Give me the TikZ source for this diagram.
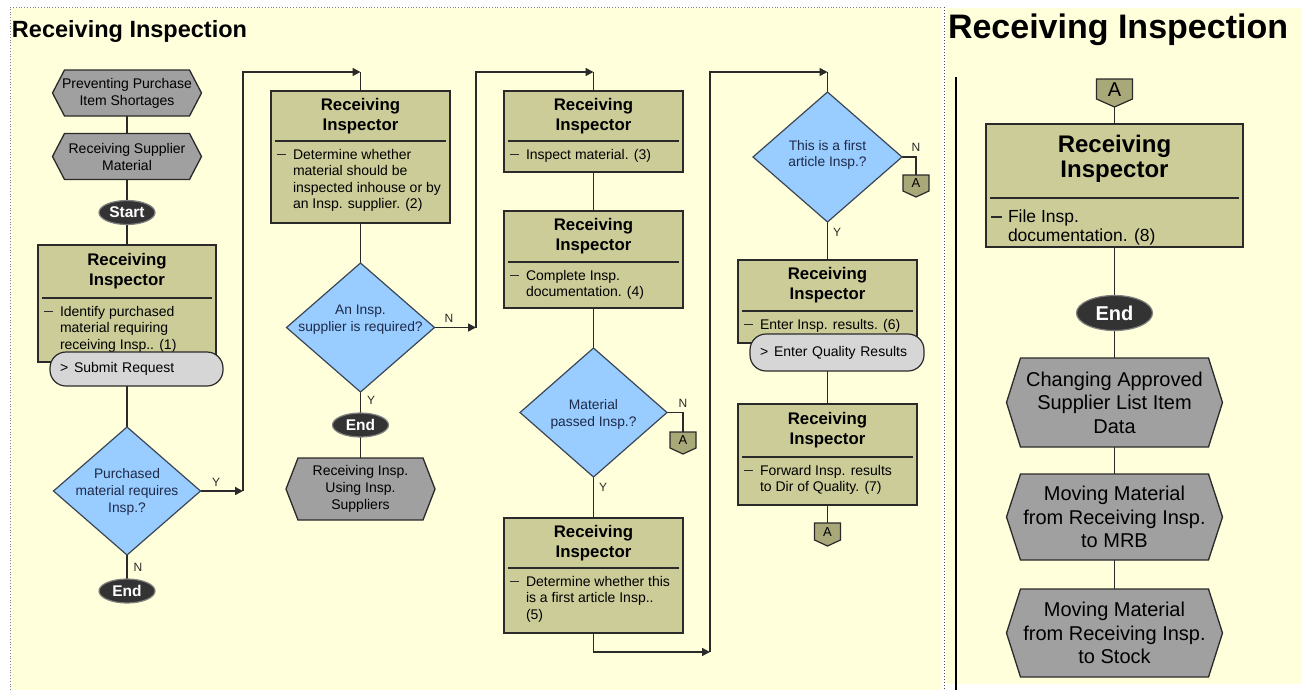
\documentclass[tikz,border=0pt]{standalone}
\usepackage{fontspec}
\setmainfont{Liberation Sans}
\usetikzlibrary{shapes.geometric,shapes.misc,arrows.meta,backgrounds}
\definecolor{bgy}{HTML}{FFFFDC}
\definecolor{boxc}{HTML}{CCCC99}
\definecolor{diac}{HTML}{99CCFF}
\definecolor{diab}{HTML}{3A4656}
\definecolor{diatext}{HTML}{1E2A4A}
\definecolor{hexc}{HTML}{A0A0A0}
\definecolor{pillc}{HTML}{D6D6D6}
\definecolor{ac}{HTML}{A8A878}
\definecolor{linec}{HTML}{2A2A2A}
\definecolor{termc}{HTML}{333333}

% box: name, x1, y1, x2, y2, separator y, body
\newcommand{\RIbox}[7]{%
  \node[ribox, minimum width={#4-#2}, minimum height={#5-#3}] (#1) at ({(#2+#4)/2},{(#3+#5)/2}) {};
  \node[rihead] (#1h) at ({(#2+#4)/2},{(#3+#6)/2}) {Receiving\\Inspector};
  \draw[sepline] ({#2+4},#6) -- ({#4-4},#6);
  \draw[dashln] ({#2+6},{#6+13.5}) -- ({#2+15},{#6+13.5});
  \node[ribody] (#1b) at ({#2+22},{#6+8}) {#7};
}
% hexagon: options, name, cx, cy, w, h, indent, text
\newcommand{\hexn}[8]{%
  \path[hexst] ({#3-#5/2},#4) -- ({#3-#5/2+#7},{#4-#6/2}) -- ({#3+#5/2-#7},{#4-#6/2})
    -- ({#3+#5/2},#4) -- ({#3+#5/2-#7},{#4+#6/2}) -- ({#3-#5/2+#7},{#4+#6/2}) -- cycle;
  \node[hextx, minimum width=#5, minimum height=#6, #1] (#2) at (#3,#4) {#8};
}
% off-page connector: name, cx, top, w, h, point, font size
\newcommand{\Aconn}[7]{%
  \path[ast] ({#2-#4/2},#3) -- ({#2+#4/2},#3) -- ({#2+#4/2},{#3+#5-#6}) -- (#2,{#3+#5})
    -- ({#2-#4/2},{#3+#5-#6}) -- cycle;
  \node[minimum width=#4, minimum height=#5] (#1) at (#2,{#3+#5/2}) {};
  \node[font={\fontsize{#7}{#7}\selectfont}] (#1t) at (#2,{#3+(#5-#6)/2+0.5}) {A};
}

\begin{document}
\begin{tikzpicture}[x=1pt,y=-1pt,
  every node/.style={inner sep=0pt, outer sep=0pt},
  ln/.style={draw=linec, line width=1.5pt},
  arr/.style={ln, -{Triangle[length=8pt,width=8pt]}},
  ribox/.style={rectangle, draw=linec, line width=1.3pt, fill=boxc},
  rihead/.style={align=center, font=\fontsize{16.8}{20}\selectfont\bfseries},
  ribody/.style={anchor=north west, align=left, font=\fontsize{14}{16.6}\selectfont},
  dashln/.style={draw=linec, line width=1.6pt},
  sepline/.style={draw=linec, line width=1.5pt},
  dia/.style={diamond, draw=diab, line width=1.2pt, fill=diac},
  diatx/.style={align=center, text=diatext, font=\fontsize{13.8}{16.8}\selectfont},
  hexst/.style={fill=hexc, draw=linec, line width=1.3pt},
  hextx/.style={align=center, font=\fontsize{14}{17}\selectfont},
  hexbig/.style={font=\fontsize{20}{23.5}\selectfont},
  term/.style={ellipse, fill=termc, draw=gray, line width=1.2pt, text=white,
    minimum width=56, minimum height=24, font=\fontsize{15.5}{16}\selectfont\bfseries},
  pill/.style={rectangle, rounded corners=16pt, fill=pillc, draw=linec, line width=1.2pt,
    align=left, inner xsep=10pt, font=\fontsize{14}{16}\selectfont},
  ast/.style={fill=ac, draw=linec, line width=1.2pt},
  yn/.style={font=\fontsize{12}{12}\selectfont, text=linec},
  title/.style={anchor=base west, font=\bfseries}
]
\useasboundingbox (0,0) rectangle (1302,694);
\begin{scope}[on background layer]
  \fill[white] (0,0) rectangle (1302,694);
  \fill[bgy] (11,8) rectangle (942,690);
  \fill[bgy] (946,8) rectangle (1302,684);
  \draw[gray, dotted, line width=0.8pt] (10,690) -- (10,7) -- (942,7);
  \draw[black!70, dotted, line width=1pt] (944,7) -- (944,690);
\end{scope}
\draw[black, line width=2pt] (956,77) -- (956,690);

% titles
\node[title, font=\fontsize{23.5}{26}\selectfont\bfseries] (t1) at (12,37) {Receiving Inspection};
\node[title, font=\fontsize{34}{36}\selectfont\bfseries] (t2) at (948,38) {Receiving Inspection};

% ---------- column 1
\hexn{}{h1}{127}{93}{149}{46}{12}{Preventing Purchase\\Item Shortages}
\hexn{}{h2}{127}{156.5}{149}{46}{12}{Receiving Supplier\\Material}
\node[term] (st) at (127,212.5) {Start};
\RIbox{b1}{38}{245}{216}{362}{298}{Identify purchased\\material requiring\\receiving Insp.. (1)}
\node[pill, minimum height=34, text width=153pt] (p1) at (136.5,369) {\makebox[14pt][l]{>}Submit Request};
\node[dia, minimum width=147, minimum height=128] (d1) at (127,491) {};
\node[diatx] (d1t) at (127,492) {Purchased\\material requires\\Insp.?};
\node[term] (e1) at (127,591) {End};
\node[yn] (n1) at (138,567) {N};
\node[yn] (y1) at (216,482) {Y};

% ---------- column 2
\RIbox{b2}{271}{91}{450}{223}{141}{Determine whether\\material should be\\inspected inhouse or by\\an Insp. supplier. (2)}
\node[dia, minimum width=148, minimum height=129] (d2) at (360.5,327.5) {};
\node[diatx] (d2t) at (360.5,320) {An Insp.\\supplier is required?};
\node[term] (e2) at (360.5,425) {End};
\hexn{}{h3}{360.5}{489}{149}{62}{12}{Receiving Insp.\\Using Insp.\\Suppliers}
\node[yn] (y2) at (371,400) {Y};
\node[yn] (n2) at (449,318) {N};

% ---------- column 3
\RIbox{b3}{504}{91}{683}{172}{141}{Inspect material. (3)}
\RIbox{b4}{504}{211}{683}{308}{262}{Complete Insp.\\documentation. (4)}
\node[dia, minimum width=147, minimum height=129] (d3) at (593.5,412.5) {};
\node[diatx] (d3t) at (593.5,414.5) {Material\\passed Insp.?};
\Aconn{a1}{683}{432}{26}{22}{6}{13}
\node[yn] (n3) at (683,403) {N};
\node[yn] (y3) at (603,487) {Y};
\RIbox{b5}{504}{518}{683}{633}{568}{Determine whether this\\is a first article Insp..\\(5)}

% ---------- column 4
\node[dia, minimum width=149, minimum height=130] (d4) at (827.5,157) {};
\node[diatx] (d4t) at (827.5,155) {This is a first\\article Insp.?};
\Aconn{a2}{916}{175}{26}{22}{6}{13}
\node[yn] (n4) at (916,147) {N};
\node[yn] (y4) at (837,232) {Y};
\RIbox{b6}{738}{260}{917}{343}{311}{Enter Insp. results. (6)}
\node[pill, minimum height=37, text width=154pt] (p2) at (837,352.5) {\makebox[14pt][l]{>}Enter Quality Results};
\RIbox{b7}{738}{404}{917}{505}{457}{Forward Insp. results\\to Dir of Quality. (7)}
\Aconn{a3}{827.5}{523}{26}{23}{6}{13}

% ---------- right panel
\Aconn{a4}{1114.5}{79}{36}{28}{8}{20}
\node[ribox, minimum width=257, minimum height=123] (b8) at (1114.5,185.5) {};
\node[rihead, font=\fontsize{24}{25}\selectfont\bfseries] (b8h) at (1114.5,159) {Receiving\\Inspector};
\draw[sepline] (990,198) -- (1239,198);
\draw[dashln, line width=2pt] (991,217) -- (1002,217);
\node[ribody, font=\fontsize{17.5}{18.5}\selectfont] (b8b) at (1008,210) {File Insp.\\documentation. (8)};
\node[term, minimum width=76, minimum height=35, font=\fontsize{20}{20}\selectfont\bfseries] (e3) at (1114.5,313) {End};
\hexn{hexbig}{h4}{1114.5}{402.5}{216}{89}{14}{Changing Approved\\Supplier List Item\\Data}
\hexn{hexbig}{h5}{1114.5}{517}{216}{86}{14}{Moving Material\\from Receiving Insp.\\to MRB}
\hexn{hexbig}{h6}{1114.5}{633}{216}{88}{14}{Moving Material\\from Receiving Insp.\\to Stock}

% ---------- connectors
\coordinate (c1) at (243,491);
\coordinate (c2) at (360.5,72);
\coordinate (c3) at (476,327.5);
\coordinate (c4) at (593.5,72);
\coordinate (c6) at (710,652);
\coordinate (c7) at (827.5,72);
\begin{scope}[on background layer]
  \draw[ln] (h1.south) -- (h2.north);
  \draw[ln] (h2.south) -- (st.north);
  \draw[ln] (st.south) -- (b1.north);
  \draw[ln] (p1.south -| d1.north) -- (d1.north);
  \draw[ln] (d1.south) -- (e1.north);
  \draw[arr] (d1.east) -- (c1);
  \draw[arr] (c1) |- (c2);
  \draw[ln] (c2) -- (b2.north);
  \draw[ln] (b2.south) -- (d2.north);
  \draw[ln] (d2.south) -- (e2.north);
  \draw[ln] (e2.south) -- (h3.north);
  \draw[arr] (d2.east) -- (c3);
  \draw[arr] (c3) |- (c4);
  \draw[ln] (c4) -- (b3.north);
  \draw[ln] (b3.south) -- (b4.north);
  \draw[ln] (b4.south) -- (d3.north);
  \draw[ln] (d3.east) -| (a1.north);
  \draw[ln] (d3.south) -- (b5.north);
  \draw[arr] (b5.south) |- (c6);
  \draw[arr] (c6) |- (c7);
  \draw[ln] (c7) -- (d4.north);
  \draw[ln] (d4.east) -| (a2.north);
  \draw[ln] (d4.south) -- (b6.north);
  \draw[ln] (p2.south -| b7.north) -- (b7.north);
  \draw[ln] (b7.south) -- (a3.north);
  \draw[ln] (a4.south) -- (b8.north);
  \draw[ln] (b8.south) -- (e3.north);
  \draw[ln] (e3.south) -- (h4.north);
  \draw[ln] (h4.south) -- (h5.north);
  \draw[ln] (h5.south) -- (h6.north);
\end{scope}
\end{tikzpicture}
\end{document}
